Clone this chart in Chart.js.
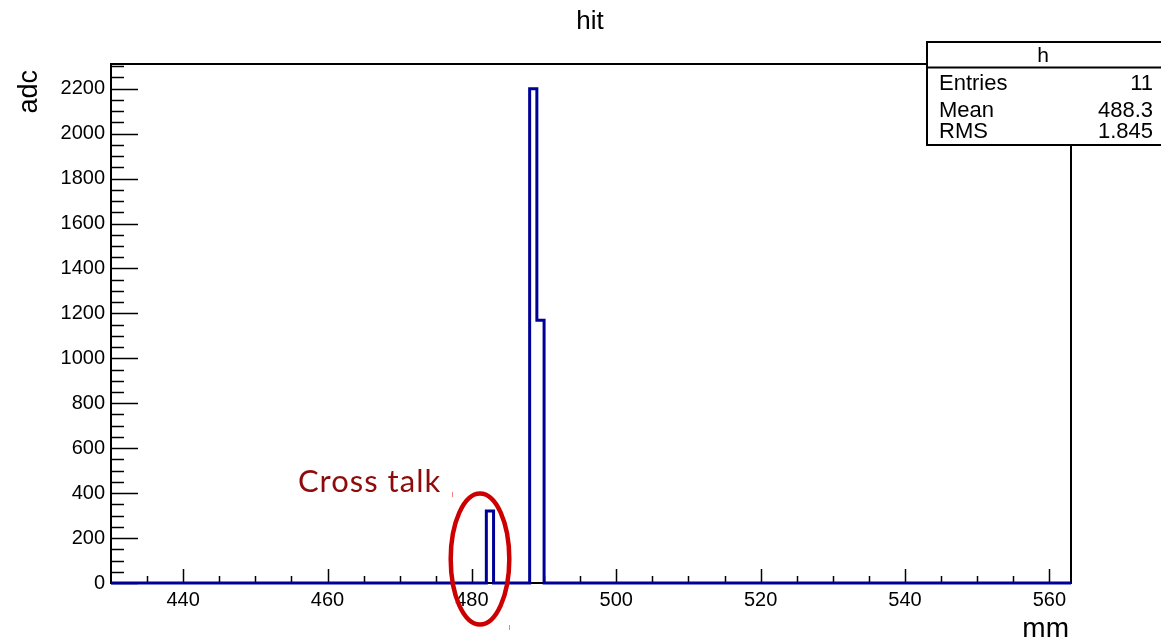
<!DOCTYPE html>
<html>
<head>
<meta charset="utf-8">
<script src="https://cdn.jsdelivr.net/npm/chart.js@4"></script>
<style>
html,body{margin:0;padding:0;background:#fff;}
canvas{display:block;}
</style>
</head>
<body>
<canvas id="c" width="1161" height="643"></canvas>
<script>
// ---- data ----
const binLow = [482, 488, 489];          // mm, lower bin edge
const binWidth = 1;                       // mm
const binContent = [320, 2200, 1170];     // adc
const xRange = [430, 563];
const yRange = [0, 2310];
const xTickLabels = [440, 460, 480, 500, 520, 540, 560];
const yTickLabels = [0, 200, 400, 600, 800, 1000, 1200, 1400, 1600, 1800, 2000, 2200];
const statsLabels = ['Entries', 'Mean', 'RMS'];
const statsValues = ['11', '488.3', '1.845'];

// build histogram step outline from the bins
const pts = [{x: xRange[0], y: 0}];
for (let i = 0; i < binLow.length; i++) {
  const lo = binLow[i], hi = lo + binWidth;
  pts.push({x: lo, y: binContent[i]});
  const nextLo = i + 1 < binLow.length ? binLow[i + 1] : null;
  if (nextLo !== hi) pts.push({x: hi, y: 0});
}
pts.push({x: xRange[1], y: 0});

const FONT = '"Liberation Sans", Arial, sans-serif';

const framePlugin = {
  id: 'frame',
  beforeDatasetsDraw(chart) {
    const {ctx, chartArea: a, scales: {x, y}} = chart;
    ctx.save();
    ctx.strokeStyle = '#000';
    ctx.lineWidth = 2;
    ctx.beginPath();
    ctx.rect(a.left, a.top, a.right - a.left, a.bottom - a.top);
    ctx.stroke();
    ctx.lineWidth = 1.5;
    // x ticks (inside, pointing up)
    for (let v = 435; v <= xRange[1]; v += 5) {
      const px = Math.round(x.getPixelForValue(v)) + 0.5;
      const len = (v % 20 === 0) ? 14 : 7;
      ctx.beginPath();
      ctx.moveTo(px, a.bottom);
      ctx.lineTo(px, a.bottom - len);
      ctx.stroke();
    }
    // y ticks (inside, pointing right)
    for (let v = 0; v <= yRange[1]; v += 50) {
      const py = Math.round(y.getPixelForValue(v)) + 0.5;
      const len = (v % 200 === 0) ? 27 : 13;
      ctx.beginPath();
      ctx.moveTo(a.left, py);
      ctx.lineTo(a.left + len, py);
      ctx.stroke();
    }
    ctx.restore();
  },
  afterDraw(chart) {
    const {ctx} = chart;
    ctx.save();
    // title
    ctx.fillStyle = '#000';
    ctx.font = '26px ' + FONT;
    ctx.textAlign = 'center';
    ctx.textBaseline = 'alphabetic';
    ctx.fillText('hit', 590, 29);
    // x axis title
    ctx.font = '28px ' + FONT;
    ctx.textAlign = 'right';
    ctx.fillText('mm', 1069, 637);
    // y axis title
    ctx.save();
    ctx.translate(37, 70);
    ctx.rotate(-Math.PI / 2);
    ctx.font = '27px ' + FONT;
    ctx.textAlign = 'right';
    ctx.fillText('adc', 0, 0);
    ctx.restore();

    // cross talk ellipse
    ctx.strokeStyle = '#cc0000';
    ctx.lineWidth = 4.5;
    ctx.beginPath();
    ctx.ellipse(480, 559, 29.3, 65.5, 0, 0, Math.PI * 2);
    ctx.stroke();
    ctx.font = '31px Lato, "Open Sans", sans-serif';
    if ('letterSpacing' in ctx) ctx.letterSpacing = '1px';
    ctx.fillStyle = '#8e0b0b';
    ctx.textAlign = 'left';
    ctx.fillText('Cross talk', 298, 492);
    if ('letterSpacing' in ctx) ctx.letterSpacing = '0px';
    // small red marks
    ctx.strokeStyle = '#f08080';
    ctx.lineWidth = 1;
    ctx.beginPath();
    ctx.moveTo(452.5, 492); ctx.lineTo(452.5, 497);
    ctx.moveTo(509.5, 625); ctx.lineTo(509.5, 630);
    ctx.stroke();

    // stats box
    const bx = 927, by = 42, bw = 240, hh = 25.5, bh = 103;
    ctx.fillStyle = '#fff';
    ctx.fillRect(bx, by, bw, bh);
    ctx.strokeStyle = '#000';
    ctx.lineWidth = 2;
    ctx.strokeRect(bx, by, bw, bh);
    ctx.beginPath();
    ctx.moveTo(bx, by + hh); ctx.lineTo(bx + bw, by + hh);
    ctx.stroke();
    ctx.fillStyle = '#000';
    ctx.font = '21px ' + FONT;
    ctx.textAlign = 'center';
    ctx.fillText('h', 1043, 62);
    ctx.font = '22px ' + FONT;
    const rows = [90, 116.5, 137.5];
    for (let i = 0; i < statsLabels.length; i++) {
      ctx.textAlign = 'left';
      ctx.fillText(statsLabels[i], 939, rows[i]);
      ctx.textAlign = 'right';
      ctx.fillText(statsValues[i], 1153, rows[i]);
    }
    ctx.restore();
  }
};

new Chart(document.getElementById('c'), {
  type: 'line',
  data: {
    datasets: [{
      data: pts,
      stepped: 'before',
      borderColor: '#000099',
      borderWidth: 3,
      pointRadius: 0,
      fill: false,
      clip: 8,
      tension: 0
    }]
  },
  options: {
    responsive: false,
    animation: false,
    devicePixelRatio: 1,
    layout: {padding: {top: 64, right: 90, left: 0, bottom: 0}},
    plugins: {legend: {display: false}, tooltip: {enabled: false}, title: {display: false}},
    scales: {
      x: {
        type: 'linear',
        min: xRange[0], max: xRange[1],
        grid: {display: false, drawTicks: false}, border: {display: false},
        afterBuildTicks(s) { s.ticks = xTickLabels.map(v => ({value: v})); },
        afterFit(s) { s.height = 60; },
        ticks: {color: '#000', font: {family: FONT, size: 20}, padding: 5, maxRotation: 0, autoSkip: false,
                callback: v => String(v)}
      },
      y: {
        min: yRange[0], max: yRange[1],
        grid: {display: false, drawTicks: false}, border: {display: false},
        afterBuildTicks(s) { s.ticks = yTickLabels.map(v => ({value: v})); },
        afterFit(s) { s.width = 111; },
        ticks: {color: '#000', font: {family: FONT, size: 20}, padding: 6, autoSkip: false,
                callback: v => String(v)}
      }
    }
  },
  plugins: [framePlugin]
});
</script>
</body>
</html>
